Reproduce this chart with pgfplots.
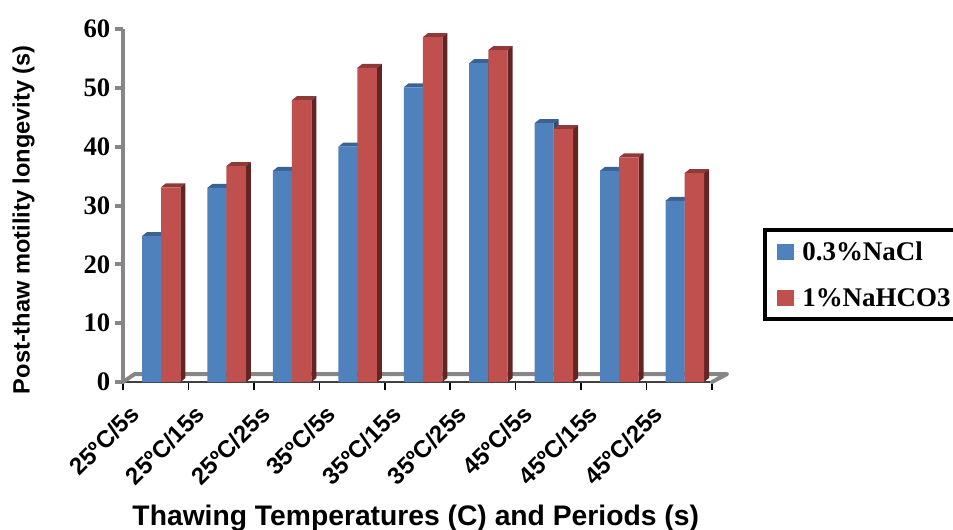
\documentclass[border=0pt]{standalone}
\usepackage{fontspec}
\usepackage{pgfplots}
\usepackage{pgfplotstable}
\pgfplotsset{compat=1.18}
\setmainfont{Liberation Serif}
\newfontfamily\arialf{Liberation Sans}
\definecolor{bluefront}{HTML}{4F81BD}
\definecolor{bluetop}{HTML}{3A6293}
\definecolor{blueside}{HTML}{2F4F78}
\definecolor{redfront}{HTML}{C0504D}
\definecolor{redtop}{HTML}{8F3A38}
\definecolor{redside}{HTML}{632523}
\definecolor{axisgray}{HTML}{868686}

\pgfplotstableread{
i nacl nahco
0 24.8 33.1
1 33.0 36.7
2 35.9 47.9
3 40.0 53.4
4 50.1 58.6
5 54.2 56.4
6 44.0 43.0
7 35.9 38.2
8 30.8 35.5
}\thawdata

% side and top of a bar: column, x offsets of the face, colours
\newcommand{\sidetop}[5]{%
  \pgfplotsforeachungrouped \k in {0,...,8}{%
    \pgfplotstablegetelem{\k}{#1}\of\thawdata
    \let\v\pgfplotsretval
    \pgfmathsetmacro{\xa}{\k+#2}
    \pgfmathsetmacro{\xb}{\k+#3}
    \pgfmathsetmacro{\xc}{\xb+0.0764}
    \pgfmathsetmacro{\xd}{\xa+0.0764}
    \pgfmathsetmacro{\vt}{\v+0.68}
    \addplot[fill=#4, draw=none, forget plot] coordinates {(\xa,\v) (\xb,\v) (\xc,\vt) (\xd,\vt)} --cycle;
    \addplot[fill=#5, draw=none, forget plot] coordinates {(\xb,0) (\xc,0.68) (\xc,\vt) (\xb,\v)} --cycle;
  }%
}

\begin{document}
\begin{tikzpicture}
\path[use as bounding box] (0,0) rectangle (714.75pt,396.75pt);
\begin{axis}[
    at={(92.25pt,110.25pt)}, anchor=south west,
    scale only axis,
    width=441.75pt, height=264.75pt,
    xmin=0, xmax=9, ymin=0, ymax=60,
    clip=false,
    axis x line*=bottom, axis y line*=left,
    axis line style={-},
    x axis line style={black!75, line width=1.2pt},
    y axis line style={axisgray, line width=3pt},
    tick align=outside,
    xtick={0,...,9},
    xticklabels={25ºC/5s,25ºC/15s,25ºC/25s,35ºC/5s,35ºC/15s,35ºC/25s,45ºC/5s,45ºC/15s,45ºC/25s,{}},
    x tick style={draw=black, line width=1.2pt},
    x tick label style={font=\arialf\bfseries\fontsize{18}{18}\selectfont, rotate=45, anchor=north east, xshift=-0.8pt, yshift=-6.7pt},
    ytick={0,10,...,60},
    y tick style={draw=axisgray, line width=3pt},
    major tick length=6pt,
    y tick label style={font=\bfseries\fontsize{20}{20}\selectfont, /pgf/number format/assume math mode=true},
    xlabel={Thawing Temperatures (C) and Periods (s)},
    xlabel style={font=\arialf\bfseries\fontsize{21.2}{21.2}\selectfont, at={(axis description cs:0.497,0)}, anchor=center, yshift=-102.5pt},
    ylabel={Post-thaw motility longevity (s)},
    ylabel style={font=\arialf\bfseries\fontsize{17.7}{17.7}\selectfont, at={(axis description cs:0,0.46)}, anchor=center, yshift=74.5pt},
    legend style={at={(axis description cs:1.0866,0.436)}, anchor=north west, draw=black, line width=3pt,
      font=\bfseries\fontsize{20.2}{20.2}\selectfont, inner xsep=9pt, inner ysep=6.5pt, row sep=15.5pt, legend cell align=left},
    legend image code/.code={\fill[#1] (0,-6pt) rectangle (12.75pt,6pt); \path (0,0) -- (17pt,0);},
]
% back edge of the floor
\draw[axisgray, line width=3pt, line cap=round, line join=round]
    (axis cs:0,0) -- (axis cs:0.18,1.36) -- (axis cs:9.23,1.36) -- (axis cs:9,0);

\sidetop{nacl}{0.2903}{0.5806}{bluetop}{blueside}
\addplot[ybar, bar width=14.25pt, bar shift=-3.15pt, fill=bluefront, draw=none] table[x expr=\thisrow{i}+0.5, y=nacl] {\thawdata};
\addlegendentry{0.3\%NaCl}
\sidetop{nahco}{0.5806}{0.8786}{redtop}{redside}
\addplot[ybar, bar width=14.6pt, bar shift=11.3pt, fill=redfront, draw=none] table[x expr=\thisrow{i}+0.5, y=nahco] {\thawdata};
\addlegendentry{1\%NaHCO3}
\end{axis}
\end{tikzpicture}
\end{document}
